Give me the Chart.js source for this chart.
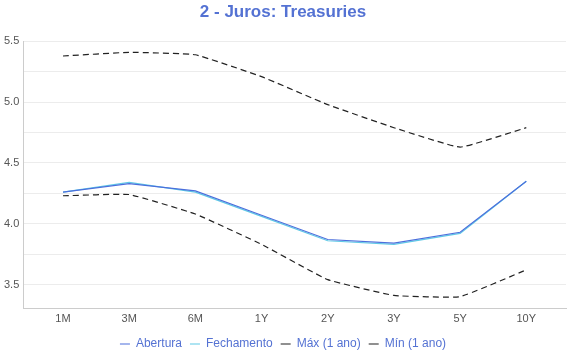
<!DOCTYPE html>
<html>
<head>
<meta charset="utf-8">
<script src="https://cdn.jsdelivr.net/npm/chart.js@4"></script>
<style>
  html, body { margin: 0; padding: 0; background: #fff; }
  #wrap { width: 570px; height: 360px; }
</style>
</head>
<body>
<div id="wrap"><canvas id="chJuros"></canvas></div>
<script>
// vertices da curva
var vertices = ['1M','3M','6M','1Y','2Y','3Y','5Y','10Y'];

// taxas (%)
var abertura    = [4.26, 4.33, 4.27, 4.07, 3.87, 3.84, 3.93, 4.35];
var fechamento  = [4.26, 4.34, 4.26, 4.06, 3.86, 3.83, 3.92, 4.35];
var maxAno      = [5.38, 5.41, 5.39, 5.21, 4.98, 4.79, 4.63, 4.79];
var minAno      = [4.23, 4.24, 4.08, 3.83, 3.54, 3.41, 3.40, 3.62];

var labelColor = '#5472d3';

function pontos(arr) {
  return arr.map(function(v, i) { return {x: i, y: v}; });
}

var ctx = document.getElementById('chJuros');
new Chart(ctx, {
  type: 'line',
  data: {
    datasets: [
      { label: 'Abertura', data: pontos(abertura), borderColor: '#4c6fdc', borderWidth: 1.2, pointRadius: 0, tension: 0, fill: false },
      { label: 'Fechamento', data: pontos(fechamento), borderColor: '#5fc9e6', borderWidth: 1.2, pointRadius: 0, tension: 0, fill: false },
      { label: 'Máx (1 ano)', data: pontos(maxAno), borderColor: '#222', borderWidth: 1.2, borderDash: [6, 4], pointRadius: 0, tension: 0.1, fill: false },
      { label: 'Mín (1 ano)', data: pontos(minAno), borderColor: '#222', borderWidth: 1.2, borderDash: [6, 4], pointRadius: 0, tension: 0.1, fill: false }
    ]
  },
  options: {
    responsive: true,
    maintainAspectRatio: false,
    animation: false,
    layout: { padding: { left: 0, right: 4, top: 0, bottom: 0 } },
    plugins: {
      title: {
        display: true,
        text: '2 - Juros: Treasuries',
        color: labelColor,
        font: { family: 'Liberation Sans, Arial, sans-serif', size: 17, weight: 'bold' },
        padding: { top: 2, bottom: 19 }
      },
      legend: {
        position: 'bottom',
        labels: {
          color: labelColor,
          boxWidth: 10,
          boxHeight: 0,
          padding: 8,
          font: { family: 'Liberation Sans, Arial, sans-serif', size: 12 }
        }
      },
      tooltip: { enabled: false }
    },
    scales: {
      x: {
        type: 'linear',
        min: -0.6,
        max: 7.6,
        grid: { display: false, drawTicks: false },
        border: { color: '#ccc' },
        afterBuildTicks: function(axis) {
          axis.ticks = vertices.map(function(v, i) { return {value: i}; });
        },
        ticks: {
          color: '#555',
          padding: 4,
          font: { family: 'Liberation Sans, Arial, sans-serif', size: 11 },
          callback: function(v) { return vertices[v]; }
        }
      },
      y: {
        min: 3.3,
        max: 5.5,
        grid: { color: '#ececec', drawTicks: false },
        border: { color: '#ccc' },
        ticks: {
          stepSize: 0.25,
          color: '#555',
          padding: 4,
          font: { family: 'Liberation Sans, Arial, sans-serif', size: 11 },
          callback: function(v) {
            return Math.abs(v * 2 - Math.round(v * 2)) < 1e-6 ? v.toFixed(1) : '';
          }
        }
      }
    }
  }
});
</script>
</body>
</html>
